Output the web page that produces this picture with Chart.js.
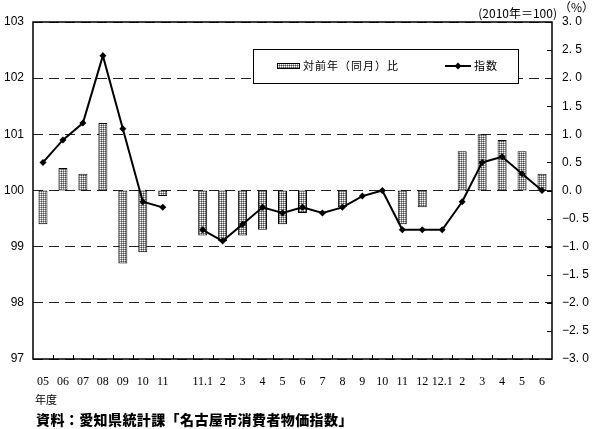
<!DOCTYPE html>
<html>
<head>
<meta charset="utf-8">
<script src="https://cdn.jsdelivr.net/npm/chart.js@4/dist/chart.umd.min.js"></script>
<style>
html,body{margin:0;padding:0;background:#fff;}
canvas{display:block;}
</style>
</head>
<body>
<canvas id="c" width="592" height="429"></canvas>
<script>
const categories = ['05','06','07','08','09','10','11','','11.1','2','3','4','5','6','7','8','9','10','11','12','12.1','2','3','4','5','6'];
const indexValues = [100.5,100.9,101.2,102.4,101.1,99.8,99.7,null,99.3,99.1,99.4,99.7,99.6,99.7,99.6,99.7,99.9,100.0,99.3,99.3,99.3,99.8,100.5,100.6,100.3,100.0];
const yoyValues = [-0.6,0.4,0.3,1.2,-1.3,-1.1,-0.1,null,-0.8,-0.9,-0.8,-0.7,-0.6,-0.4,0.0,-0.3,0.0,0.0,-0.6,-0.3,0.0,0.7,1.0,0.9,0.7,0.3];
const leftTicks = [97,98,99,100,101,102,103];
const rightTicks = [-3.0,-2.5,-2.0,-1.5,-1.0,-0.5,0.0,0.5,1.0,1.5,2.0,2.5,3.0];
const seriesNames = ['対前年（同月）比','指数'];
const topLabel = '(2010年＝100)';
const unitLabel = '（%）';
const xTitle = '年度';
const sourceText = '資料：愛知県統計課「名古屋市消費者物価指数」';

const ctx0 = document.getElementById('c').getContext('2d');
// dotted pattern
const pc = document.createElement('canvas');
pc.width = 2; pc.height = 2;
const p = pc.getContext('2d');
p.fillStyle = '#999999'; p.fillRect(0,0,2,2);
p.fillStyle = '#ffffff'; p.fillRect(0,0,1,1);
p.fillStyle = '#4a4a4a'; p.fillRect(1,1,1,1);
const pattern = ctx0.createPattern(pc, 'repeat');

const jp = '"Noto Sans CJK JP", "Noto Sans", sans-serif';

const deco = {
  id: 'deco',
  afterDatasetsDraw(chart) {
    const {ctx, chartArea: a, scales} = chart;
    ctx.save();
    // frame
    ctx.strokeStyle = '#000'; ctx.lineWidth = 1.5; ctx.setLineDash([]);
    ctx.strokeRect(a.left, a.top, a.right - a.left, a.bottom - a.top);
    // x ticks inward
    ctx.lineWidth = 1;
    const xs = scales.x;
    for (let i = 1; i < categories.length; i++) {
      const px = Math.round((xs.getPixelForValue(i - 1) + xs.getPixelForValue(i)) / 2) + 0.5;
      ctx.beginPath(); ctx.moveTo(px, a.bottom); ctx.lineTo(px, a.bottom - 4); ctx.stroke();
    }
    // right axis ticks inward
    const y2 = scales.y2;
    rightTicks.forEach(v => {
      const py = Math.round(y2.getPixelForValue(v)) + 0.5;
      ctx.beginPath(); ctx.moveTo(a.right - 5, py); ctx.lineTo(a.right, py); ctx.stroke();
    });
    // legend box
    const bx = 253, by = 49, bw = 265, bh = 34;
    ctx.fillStyle = '#fff'; ctx.fillRect(bx, by, bw, bh);
    ctx.strokeStyle = '#000'; ctx.lineWidth = 1;
    ctx.strokeRect(bx + 0.5, by + 0.5, bw, bh);
    const ly = by + 17;
    ctx.fillStyle = pattern; ctx.fillRect(277, ly - 3, 23, 5);
    ctx.strokeRect(277.5, ly - 2.5, 22, 5);
    ctx.fillStyle = '#000';
    ctx.font = '11px ' + jp; ctx.textBaseline = 'middle'; ctx.textAlign = 'left';
    if ('letterSpacing' in ctx) ctx.letterSpacing = '1px';
    ctx.fillText(seriesNames[0], 303, ly);
    ctx.lineWidth = 2;
    ctx.beginPath(); ctx.moveTo(445, ly); ctx.lineTo(471, ly); ctx.stroke();
    ctx.beginPath(); ctx.moveTo(458, ly - 3.5); ctx.lineTo(461.5, ly); ctx.lineTo(458, ly + 3.5); ctx.lineTo(454.5, ly); ctx.closePath(); ctx.fill();
    ctx.fillText(seriesNames[1], 474, ly);
    if ('letterSpacing' in ctx) ctx.letterSpacing = '0px';
    // top labels
    ctx.font = '12px ' + jp; ctx.textAlign = 'right';
    ctx.fillText(topLabel, 557, 13);
    ctx.font = '12px ' + jp; ctx.textAlign = 'left';
    ctx.fillText(unitLabel, 559, 7);
    // x title
    ctx.font = '11px ' + jp;
    ctx.fillText(xTitle, 35, 400);
    // source
    ctx.font = '900 14px ' + jp;
    let sx = 36;
    for (const ch of sourceText) { ctx.fillText(ch, sx, 420); sx += 14.4; }
    ctx.restore();
  }
};

new Chart(ctx0, {
  data: {
    labels: categories,
    datasets: [
      {
        type: 'line', label: seriesNames[1], data: indexValues, yAxisID: 'y', order: 0,
        borderColor: '#000', backgroundColor: '#000', borderWidth: 2,
        pointStyle: 'rectRot', pointRadius: 3.5, pointBorderWidth: 0, spanGaps: false, tension: 0
      },
      {
        type: 'bar', label: seriesNames[0], data: yoyValues, yAxisID: 'y2', order: 1,
        backgroundColor: pattern, borderColor: '#000', borderWidth: 1, borderSkipped: false,
        barPercentage: 0.45, categoryPercentage: 1.0
      }
    ]
  },
  options: {
    responsive: false, animation: false, devicePixelRatio: 1,
    layout: {padding: {top: 22, left: 0, right: 0, bottom: 0}},
    plugins: {legend: {display: false}, tooltip: {enabled: false}},
    scales: {
      x: {
        type: 'category', offset: true,
        grid: {display: false, drawTicks: false}, border: {display: false},
        ticks: {font: {family: '"Liberation Serif", serif', size: 12}, color: '#000', padding: 16, maxRotation: 0, autoSkip: false},
        afterFit(s) { s.height = 70; }
      },
      y: {
        position: 'left', min: 97, max: 103,
        afterBuildTicks(s) { s.ticks = leftTicks.map(v => ({value: v})); },
        grid: {color: '#222', lineWidth: 1, drawTicks: false},
        border: {display: false, dash: [10, 6]},
        ticks: {font: {family: '"Liberation Sans", Arial, sans-serif', size: 12}, color: '#000', padding: 9},
        afterFit(s) { s.width = 33; }
      },
      y2: {
        position: 'right', min: -3, max: 3,
        afterBuildTicks(s) { s.ticks = rightTicks.map(v => ({value: v})); },
        grid: {display: false, drawTicks: false}, border: {display: false},
        ticks: {
          font: {family: '"Liberation Sans", Arial, sans-serif', size: 12}, color: '#000', padding: 10,
          callback: v => (v < 0 ? '−' : '') + Math.abs(v).toFixed(1).replace('.', '. ')
        },
        afterFit(s) { s.width = 40; }
      }
    }
  },
  plugins: [deco]
});
</script>
</body>
</html>
